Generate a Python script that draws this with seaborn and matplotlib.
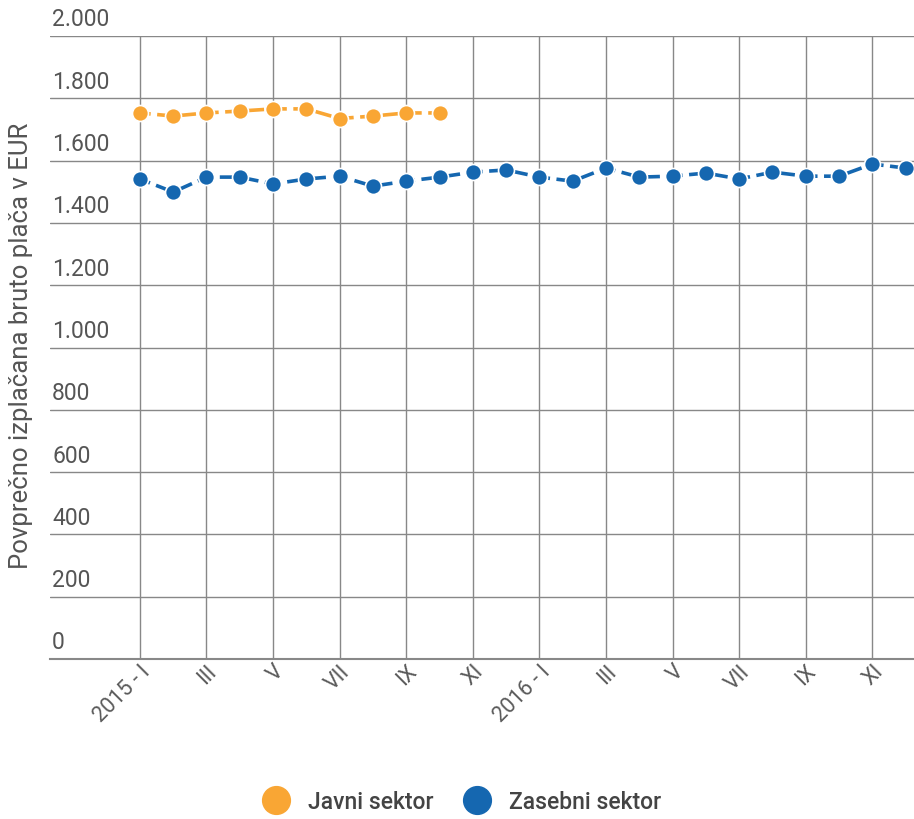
import numpy as np
import pandas as pd
import matplotlib.pyplot as plt
import seaborn as sns

# month labels (roman numerals), two years
months = ["I", "II", "III", "IV", "V", "VI", "VII", "VIII", "IX", "X", "XI", "XII"]
periods = [f"2015 - {m}" for m in months] + [f"2016 - {m}" for m in months]

# average gross wage in EUR
javni = [1753, 1743, 1753, 1759, 1766, 1766, 1735, 1743, 1753, 1753]
zasebni = [1541, 1499, 1547, 1547, 1525, 1541, 1550, 1518, 1534, 1547, 1563, 1570,
           1547, 1534, 1576, 1547, 1550, 1560, 1541, 1563, 1550, 1550, 1589, 1576]

series_names = ["Javni sektor", "Zasebni sektor"]
COLORS = {"Javni sektor": "#F9A634", "Zasebni sektor": "#1567B0"}

rows = []
for i, v in enumerate(javni):
    rows.append({"idx": i, "placa": v, "sektor": "Javni sektor"})
for i, v in enumerate(zasebni):
    rows.append({"idx": i, "placa": v, "sektor": "Zasebni sektor"})
df = pd.DataFrame(rows)

sns.set_style("white")
plt.rcParams["font.family"] = ["Roboto", "DejaVu Sans"]

fig = plt.figure(figsize=(9.14, 8.2), dpi=100)
ax = fig.add_axes([50 / 914, 160 / 820, 864 / 914, 623 / 820])

for name in series_names:
    d = df[df["sektor"] == name]
    sns.lineplot(data=d, x="idx", y="placa", ax=ax, color=COLORS[name],
                 linewidth=2.6, linestyle=(1.5, (4.5, 1.8)), marker="o",
                 markersize=11.5, markeredgecolor="white", markeredgewidth=1.2,
                 label=name, legend=False, zorder=3)

ax.set_xlim(-2.7, 23.25)
ax.set_ylim(0, 2000)

# y grid + labels sitting above the lines
yticks = np.arange(0, 2001, 200)
ax.set_yticks(yticks)
ax.set_yticklabels([])
ax.tick_params(axis="y", length=0)
for t in yticks:
    lab = f"{t:,}".replace(",", ".")
    ax.annotate(lab, xy=(0, t), xycoords=("axes fraction", "data"),
                xytext=(1.5, 4), textcoords="offset points",
                ha="left", va="bottom", fontsize=16.5, color="#555555")

xt = list(range(0, 24, 2))
ax.set_xticks(xt)
xlabels = [periods[i] if i % 12 == 0 else periods[i].split(" - ")[1] for i in xt]
ax.set_xticklabels(xlabels, rotation=45, ha="right", rotation_mode="anchor",
                   fontsize=15.5, color="#5a5a5a")
ax.tick_params(axis="x", length=0, pad=1)

ax.grid(True, axis="both", color="#888888", linewidth=1)
ax.set_axisbelow(True)
for s in ["top", "right", "left"]:
    ax.spines[s].set_visible(False)
ax.spines["bottom"].set_color("#888888")
ax.spines["bottom"].set_linewidth(1.5)

ax.set_xlabel("")
ax.set_ylabel("Povprečno izplačana bruto plača v EUR", fontsize=18.5,
              color="#555555")
ax.yaxis.set_label_coords(-17 / 864, 0.505)

handles = [plt.Line2D([], [], marker="o", linestyle="none", markersize=20,
                      markerfacecolor=COLORS[n], markeredgecolor=COLORS[n])
           for n in series_names]
fig.legend(handles, series_names, loc="center", bbox_to_anchor=(0.5, 1 - 803 / 820),
           ncol=2, frameon=False, handletextpad=0.4,
           columnspacing=0.9, labelcolor="#444444",
           prop={"family": ["Roboto", "DejaVu Sans"], "size": 16.5, "weight": "medium"})

fig.savefig("out.png", dpi=100)
